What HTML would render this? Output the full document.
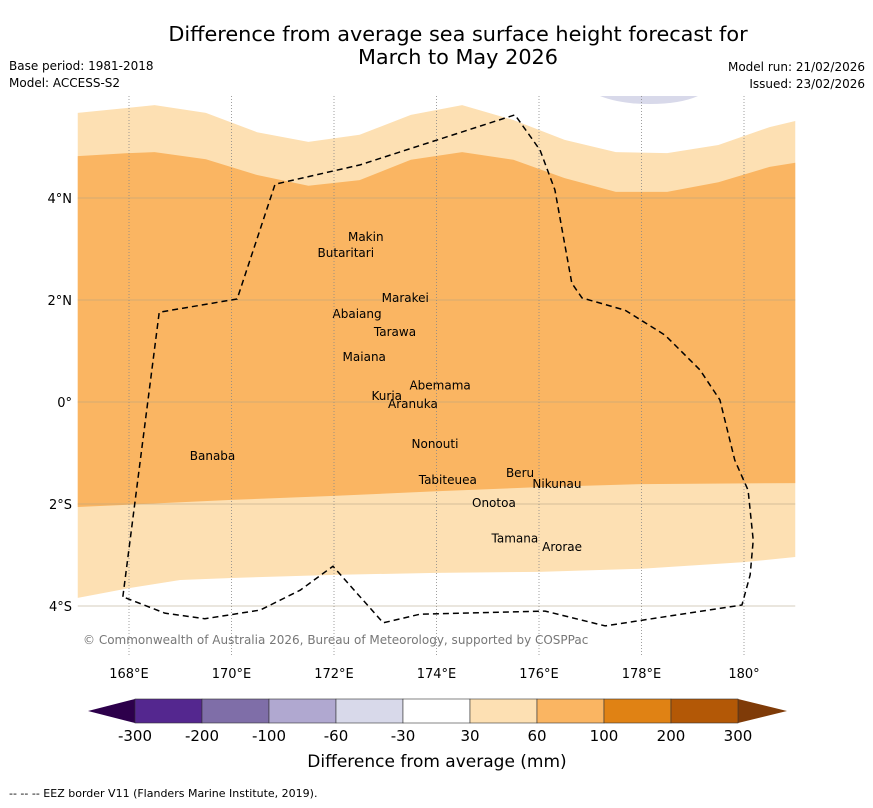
<!DOCTYPE html>
<html><head><meta charset="utf-8"><style>
body{margin:0;background:#fff;font-family:"DejaVu Sans","Liberation Sans",sans-serif;}
svg text{font-family:"DejaVu Sans","Liberation Sans",sans-serif;}
</style></head><body>
<svg id="chart" width="873" height="804" xmlns="http://www.w3.org/2000/svg">
<text x="458" y="41" font-size="20.8" text-anchor="middle">Difference from average sea surface height forecast for</text>
<text x="458" y="64" font-size="20.8" text-anchor="middle">March to May 2026</text>
<text x="9" y="70" font-size="12">Base period: 1981-2018</text>
<text x="9" y="87" font-size="12">Model: ACCESS-S2</text>
<text x="865" y="71" font-size="12" text-anchor="end">Model run: 21/02/2026</text>
<text x="865" y="88" font-size="12" text-anchor="end">Issued: 23/02/2026</text>
<g id="map"></g>
<g id="cbar"></g>
<text x="437" y="767" font-size="17" text-anchor="middle">Difference from average (mm)</text>
<text x="9" y="797" font-size="11">--  --  -- EEZ border V11 (Flanders Marine Institute, 2019).</text>
</svg>
<script>
const lonTicks=[168,170,172,174,176,178,180];
const lonLabels=["168°E","170°E","172°E","174°E","176°E","178°E","180°"];
const latTicks=[4,2,0,-2,-4];
const latLabels=["4°N","2°N","0°","2°S","4°S"];
const c30TopLon=[167,168,168.5,169.5,170.5,171.5,172.5,173.5,174.5,175.5,176.5,177.5,178.5,179.5,180.5,181];
const c30TopLat=[5.67,5.77,5.82,5.67,5.29,5.1,5.24,5.63,5.82,5.53,5.14,4.9,4.88,5.04,5.39,5.51];
const c60TopLat=[4.82,4.88,4.9,4.76,4.45,4.24,4.35,4.75,4.9,4.75,4.39,4.12,4.12,4.31,4.61,4.69];
const c60BotLon=[167,170,172,174,176,178,181];
const c60BotLat=[-2.06,-1.92,-1.84,-1.75,-1.67,-1.61,-1.59];
const c30BotLon=[167,168,169,170,172,174,176,178,180,181];
const c30BotLat=[-3.84,-3.65,-3.49,-3.45,-3.39,-3.35,-3.33,-3.27,-3.14,-3.04];
const eezLon=[167.88,168.59,170.11,170.85,172.51,175.53,176.02,176.31,176.64,176.84,177.68,178.46,179.14,179.53,179.82,180.08,180.18,180.12,179.96,177.29,176.12,173.68,172.96,171.98,171.34,170.56,169.48,168.70,167.88];
const eezLat=[-3.82,1.76,2.02,4.27,4.65,5.63,4.94,4.16,2.33,2.04,1.80,1.31,0.63,0.04,-1.14,-1.73,-2.71,-3.39,-3.98,-4.39,-4.10,-4.16,-4.33,-3.22,-3.69,-4.08,-4.25,-4.14,-3.82];
const islandNames=["Makin","Butaritari","Marakei","Abaiang","Tarawa","Maiana","Abemama","Kuria","Aranuka","Nonouti","Banaba","Beru","Nikunau","Tabiteuea","Onotoa","Tamana","Arorae"];
const islandLon=[172.62,172.23,173.39,172.45,173.19,172.59,174.07,173.03,173.54,173.97,169.63,175.63,176.35,174.22,175.12,175.53,176.45];
const islandLat=[3.16,2.84,1.96,1.65,1.29,0.80,0.25,0.04,-0.12,-0.90,-1.14,-1.47,-1.69,-1.61,-2.06,-2.75,-2.92];
const cbLabels=["-300","-200","-100","-60","-30","30","60","100","200","300"];
const cbColors=["#54278f","#7f6ea8","#b0a8d0","#d8d9ea","#ffffff","#fde0b3","#fab562","#e08214","#b35806"];

const NS="http://www.w3.org/2000/svg";
const X=lon=>77.75+(lon-167)*51.25;
const Y=lat=>402-lat*51;
function el(t,a,p){const e=document.createElementNS(NS,t);for(const k in a)e.setAttribute(k,a[k]);p.appendChild(e);return e;}
const map=document.getElementById('map');
const x0=X(167),x1=X(181),y0=Y(6),y1=Y(-5);
let d="M"+c30TopLon.map((l,i)=>X(l)+","+Y(c30TopLat[i])).join(" L");
d+=" L"+c30BotLon.slice().reverse().map((l,i)=>X(l)+","+Y(c30BotLat[c30BotLat.length-1-i])).join(" L")+" Z";
const light=el('path',{d:d,fill:'#fde0b3'},map);


d="M"+c30TopLon.map((l,i)=>X(l)+","+Y(c60TopLat[i])).join(" L");
d+=" L"+c60BotLon.slice().reverse().map((l,i)=>X(l)+","+Y(c60BotLat[c60BotLat.length-1-i])).join(" L")+" Z";
const mid=el('path',{d:d,fill:'#fab562'},map);


const blob=el('path',{d:"M600,96 L698,96 Q680,104 650,104 Q620,104 600,96 Z",fill:'#d8d9ea'},map);


lonTicks.forEach((l,i)=>{
  const g=el('line',{x1:X(l),x2:X(l),y1:y0,y2:y1,stroke:'#888','stroke-width':0.8,'stroke-dasharray':'1,2'},map);
  
  
  const t=el('text',{x:X(l),y:678,'font-size':13,'text-anchor':'middle'},map);t.textContent=lonLabels[i];
  
  
});
latTicks.forEach((l,i)=>{
  const g=el('line',{x1:x0,x2:x1,y1:Y(l),y2:Y(l),stroke:'#b0a080','stroke-width':0.8,'stroke-opacity':0.7},map);
  
  
  const t=el('text',{x:72,y:Y(l)+5,'font-size':13,'text-anchor':'end'},map);t.textContent=latLabels[i];
  
  
});
const eez=el('path',{d:"M"+eezLon.map((l,i)=>X(l)+","+Y(eezLat[i])).join(" L"),fill:'none',stroke:'#000','stroke-width':1.5,'stroke-dasharray':'6,4'},map);


islandNames.forEach((n,i)=>{
  const t=el('text',{x:X(islandLon[i]),y:Y(islandLat[i]),'font-size':12,'text-anchor':'middle'},map);t.textContent=n;
  
  
});
const cr=el('text',{x:83,y:644,'font-size':12,fill:'#777'},map);cr.textContent="© Commonwealth of Australia 2026, Bureau of Meteorology, supported by COSPPac";


const cb=document.getElementById('cbar');
const cx0=135,cw=67,cy=699,ch=24;
const lt=el('polygon',{points:`88,711 ${cx0},${cy} ${cx0},${cy+ch}`,fill:'#2d004b'},cb);


const rx=cx0+cw*cbColors.length;
const rt=el('polygon',{points:`${rx},${cy} 787,711 ${rx},${cy+ch}`,fill:'#7f3b08'},cb);


cbColors.forEach((c,i)=>{
  const r=el('rect',{x:cx0+i*cw,y:cy,width:cw,height:ch,fill:c,stroke:'#333','stroke-width':0.6},cb);
  
  
});
cbLabels.forEach((s,i)=>{
  const t=el('text',{x:cx0+i*cw,y:741,'font-size':15,'text-anchor':'middle'},cb);t.textContent=s;
  
  
});
</script>
</body></html>
